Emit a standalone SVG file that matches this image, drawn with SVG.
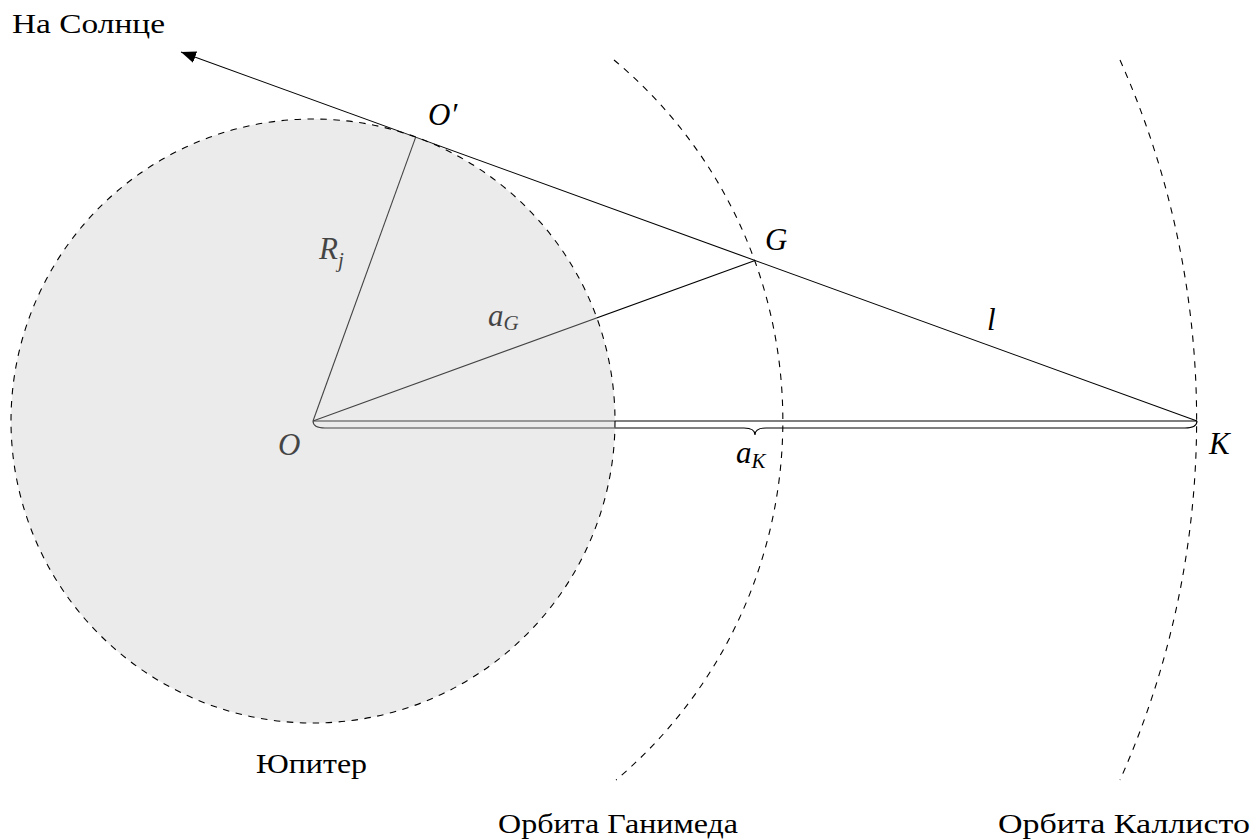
<svg xmlns="http://www.w3.org/2000/svg" width="1255" height="840" viewBox="0 0 1255 840">
<style>
.ln{fill:none;stroke:#000;stroke-width:1.1}
.dash{fill:none;stroke:#000;stroke-width:1.1;stroke-dasharray:6.5 6.5}
</style>
<defs>
<marker id="arr" markerWidth="16" markerHeight="12" refX="15" refY="6" orient="auto" markerUnits="userSpaceOnUse">
<path d="M0,0 L15,6 L0,12 Z" fill="#000"/>
</marker>
</defs>
<rect width="1255" height="840" fill="#fff"/>
<g id="connectors">
<line id="sun-line" class="ln" x1="1197" y1="421" x2="181" y2="52" marker-end="url(#arr)"/>
<line id="Rj-line" class="ln" x1="313" y1="421" x2="415.7" y2="137.1"/>
<line id="aG-line" class="ln" x1="313" y1="421" x2="755" y2="260.4"/>
<line id="aK-line" class="ln" x1="313" y1="421" x2="1197" y2="421"/>
<path id="brace" class="ln" d="M313,421 Q313,428 325,428 L744,428 Q755,428 755,435 Q755,428 766,428 L1185,428 Q1197,428 1197,421"/>
</g>
<g id="labels" font-family="Liberation Serif, serif" font-style="italic" font-size="31" fill="#000">
<text x="278" y="455">O</text>
<text x="1209" y="454">K</text>
<text x="428" y="125">O′</text>
<text x="765" y="250">G</text>
<text x="987" y="330">l</text>
<text x="319" y="259">R<tspan font-size="21" dy="8">j</tspan></text>
<text x="488" y="326">a<tspan font-size="21" dy="4">G</tspan></text>
<text x="736" y="463">a<tspan font-size="21" dy="5">K</tspan></text>
</g>
<g id="jupiter">
<circle cx="313" cy="421" r="302" fill="#c5c5c5" fill-opacity="0.345"/>
<circle cx="313" cy="421" r="302" class="dash"/>
</g>
<g id="ganymede-orbit">
<path class="dash" d="M614,60 A470,470 0 0 1 616,780"/>
</g>
<g id="callisto-orbit">
<path class="dash" d="M1120,60 A884,884 0 0 1 1120,780"/>
</g>
<g id="texts" font-family="Liberation Serif, serif" font-size="27" fill="#000">
<text x="12" y="33" textLength="153" lengthAdjust="spacingAndGlyphs">На Солнце</text>
<text x="256" y="773" textLength="111" lengthAdjust="spacingAndGlyphs">Юпитер</text>
<text x="498" y="833" textLength="240" lengthAdjust="spacingAndGlyphs">Орбита Ганимеда</text>
<text x="998" y="833" textLength="252" lengthAdjust="spacingAndGlyphs">Орбита Каллисто</text>
</g>
</svg>
